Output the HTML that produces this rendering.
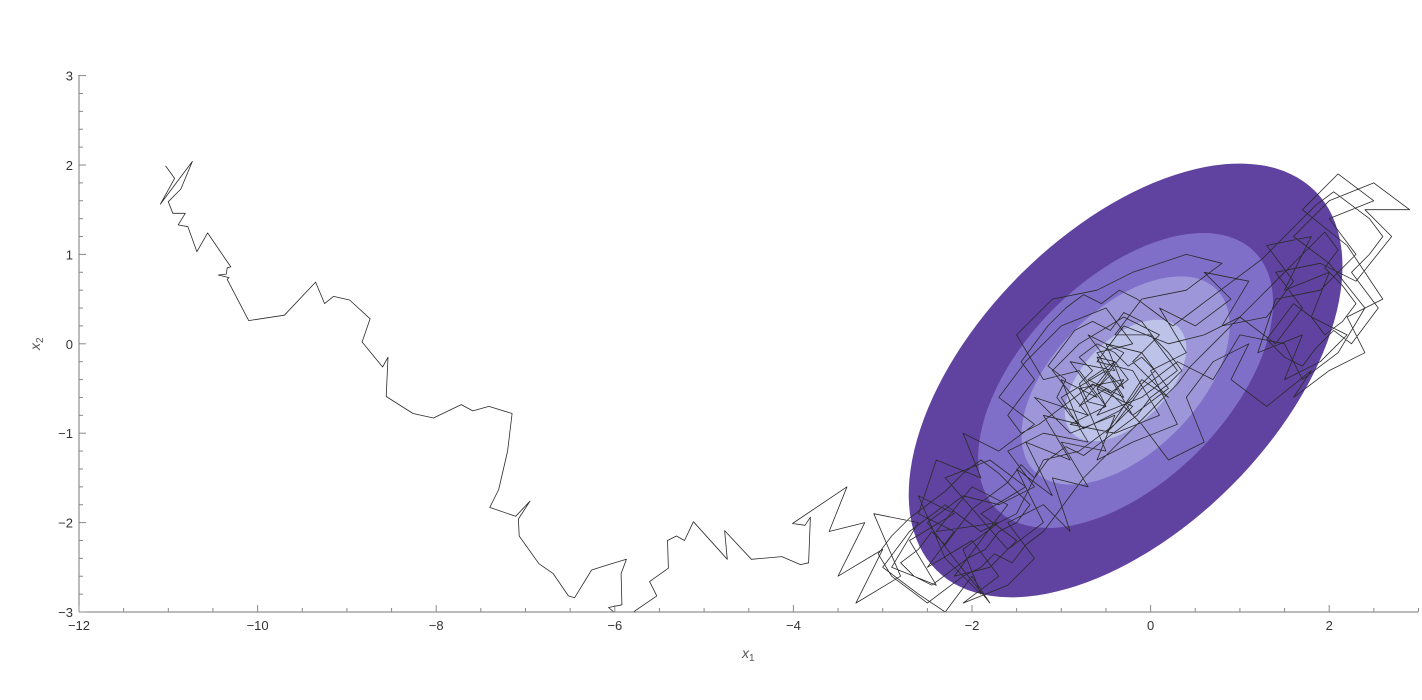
<!DOCTYPE html>
<html><head><meta charset="utf-8"><style>
body{margin:0;background:#fff}
svg{display:block;font-family:"Liberation Sans",sans-serif}
</style></head><body>
<svg id="chart" width="1422" height="700" viewBox="0 0 1422 700" xmlns="http://www.w3.org/2000/svg">
<defs><clipPath id="plotclip"><rect x="79" y="75" width="1340" height="537"/></clipPath></defs>
<g id="contours" clip-path="url(#plotclip)"></g>
<g id="walk" clip-path="url(#plotclip)"></g>
<g id="axes"></g>
<text x="742" y="658" font-size="14" font-style="italic" fill="#555">x<tspan font-size="10" dy="3" font-style="normal">1</tspan></text>
<text transform="translate(40,350) rotate(-90)" font-size="14" font-style="italic" fill="#555">x<tspan font-size="10" dy="3" font-style="normal">2</tspan></text>
</svg>
<script>
const xTicks=[-12,-10,-8,-6,-4,-2,0,2];
const yTicks=[-3,-2,-1,0,1,2,3];
const contourLevels=[1.0,0.68,0.48,0.28];
const contourColors=['#6043a0','#7f6fc9','#9d97da','#bcc2e8'];
const ellipseCenter=[-0.28,-0.41];
const ellipseAxes=[3.0,1.67];
const ellipseAngle=45;
const walkPoints=[
[-11.03,1.99],[-10.93,1.85],[-11.09,1.56],[-10.73,2.04],[-10.86,1.73],[-11.0,1.59],[-10.95,1.46],[-10.81,1.46],[-10.89,1.33],[-10.78,1.31],[-10.68,1.03],[-10.56,1.24],[-10.3,0.86],[-10.34,0.85],[-10.35,0.78],[-10.44,0.77],[-10.32,0.74],[-10.34,0.72],[-10.1,0.26],[-9.7,0.32],[-9.35,0.69],[-9.25,0.45],[-9.15,0.53],[-8.97,0.49],[-8.74,0.28],[-8.83,0.02],[-8.6,-0.26],[-8.54,-0.15],[-8.56,-0.59],[-8.26,-0.78],[-8.03,-0.83],[-7.72,-0.68],[-7.59,-0.75],[-7.41,-0.7],[-7.15,-0.78],[-7.2,-1.2],[-7.3,-1.63],[-7.4,-1.83],[-7.11,-1.93],[-6.95,-1.76],[-7.08,-1.96],[-7.07,-2.15],[-6.85,-2.46],[-6.69,-2.57],[-6.52,-2.82],[-6.45,-2.84],[-6.26,-2.53],[-6.07,-2.47],[-5.87,-2.41],[-5.93,-2.57],[-5.92,-2.92],[-6.07,-2.95],[-6.0,-3.01],[-5.96,-3.1],[-5.85,-3.04],[-5.53,-2.82],[-5.61,-2.66],[-5.4,-2.51],[-5.41,-2.2],[-5.31,-2.15],[-5.22,-2.2],[-5.12,-1.99],[-4.74,-2.41],[-4.77,-2.09],[-4.47,-2.41],[-4.13,-2.38],[-3.92,-2.47],[-3.83,-2.45],[-3.81,-1.94],[-3.87,-2.03],[-4.01,-2.01],
[-3.4,-1.6],[-3.6,-2.1],[-3.2,-2.0],[-3.5,-2.6],[-3.0,-2.3],[-3.3,-2.9],[-2.8,-2.6],[-3.1,-1.9],[-2.6,-2.0],[-2.9,-2.5],[-2.4,-2.7],[-2.7,-2.2],[-2.2,-1.9],[-2.6,-1.7],[-2.3,-2.4],[-1.9,-2.8],[-2.1,-2.3],[-1.7,-2.0],[-2.4,-2.1],[-2.0,-1.6],[-1.6,-1.8],[-2.2,-2.6],[-1.8,-2.5],[-1.5,-2.2],[-1.9,-1.9],[-1.4,-1.6],[-1.8,-1.3],[-2.3,-1.5],[-1.6,-2.3],[-1.2,-2.0],[-1.5,-1.4],[-1.1,-1.7],[-1.4,-1.1],[-0.9,-1.3],[-1.2,-0.8],[-0.8,-0.9],[-1.0,-0.4],[-0.6,-0.6],[-0.9,-0.2],[-0.4,-0.3],[-0.7,0.1],[-0.3,-0.1],[-0.6,-0.5],[-0.2,-0.7],[-0.5,-1.0],[-0.1,-0.4],[0.2,-0.6],[-0.2,-0.2],[0.1,0.1],[-0.3,0.3],[-0.8,0.0],[-1.1,-0.3],[-0.7,-0.8],[-1.3,-0.6],[-0.9,-1.0],[-0.4,-0.8],[-0.6,-1.3],[-0.2,-1.1],[0.3,-0.9],[0.0,-0.3],[0.4,-0.1],[0.1,0.4],[0.5,0.2],[0.9,0.5],[0.6,0.8],[1.1,0.7],[0.8,0.2],[1.3,0.3],[1.6,0.7],[1.3,1.1],[1.8,1.2],[1.5,0.6],[2.0,0.8],[1.8,0.3],[2.2,0.1],[1.9,-0.2],[1.5,-0.4],[1.7,0.1],[1.2,-0.1],[1.4,0.5],[1.9,0.6],[2.3,1.0],[2.0,1.4],[2.5,1.6],[2.1,1.9],[1.7,1.5],[2.2,1.1],[2.6,0.5],[2.2,0.3],[2.4,-0.1],[2.0,-0.3],[1.6,-0.6],[1.8,-0.3],[1.3,-0.7],[0.9,-0.4],[1.1,0.0],[0.7,-0.2],[0.4,-0.6],[0.6,-1.1],[0.2,-1.3],[-0.1,-0.9],[-0.5,-0.5],[-0.8,-0.7],[-0.4,-0.2],[-0.7,-0.4],[-0.3,-0.6],[-0.6,-0.1],[-0.2,0.0],[-0.5,0.4],[-1.0,0.2],[-1.4,-0.2],[-1.7,-0.6],[-1.3,-0.9],[-1.7,-1.2],[-2.1,-1.0],[-1.9,-1.5],[-2.4,-1.3],[-2.6,-1.9],[-2.2,-2.1],[-2.5,-2.5],[-2.0,-2.2],[-1.7,-2.6],[-2.1,-2.9],[-1.6,-2.7],[-1.3,-2.4],[-1.6,-2.0],[-1.2,-1.8],[-0.9,-2.1],[-1.1,-1.5],[-0.7,-1.6],[-1.0,-1.1],[-0.5,-1.2],[-0.8,-0.5],[-0.3,-0.4],[-0.6,-0.8],[-0.1,-0.6],[0.3,-0.3],[0.0,0.1],[-0.4,0.1],[-0.1,0.5],[0.4,0.6],[0.8,0.9],[0.4,1.0],[-0.2,0.8],[-0.6,0.6],[-1.1,0.5],[-1.5,0.1],[-1.2,-0.4],[-0.8,-0.3],[-0.5,-0.7],[-0.9,-0.9],[-0.4,-1.0],[0.1,-0.8],[-0.2,-0.3],[-0.6,-0.2],[-0.3,0.2],[0.2,0.0],[0.6,0.1],[1.0,0.3],[1.4,0.0],[1.7,0.4],[1.4,0.8],[1.9,0.9],[2.3,0.7],[2.7,1.2],[2.4,1.5],[2.9,1.5],[2.5,1.8],[2.0,1.6],[1.6,1.2],[2.0,0.9],[2.4,0.4],[2.1,-0.1],[1.7,-0.4],[1.5,0.0],[1.0,0.1],[0.7,-0.4],[0.3,-0.2],[-0.1,-0.5],[-0.4,-0.9],[-0.8,-1.2],[-1.2,-1.3],[-1.5,-1.9],[-1.9,-2.1],[-2.3,-1.8],[-2.7,-2.1],[-3.0,-2.5],[-2.6,-2.8],[-2.3,-3.0],[-2.0,-2.6],[-1.8,-2.9],[-2.2,-2.4],[-2.5,-2.0],[-2.1,-1.7],[-1.7,-1.8],[-1.3,-1.6],[-1.6,-1.2],[-1.2,-1.0],[-0.7,-1.1],[-1.0,-0.6],[-0.5,-0.3],[-0.2,-0.8],[0.2,-0.5],[-0.1,-0.1],[-0.5,0.0],[-0.3,-0.5],
[-0.45,-0.35],[-0.6,-0.5],[-0.5,-0.7],[-0.7,-0.65],[-0.8,-0.45],[-0.65,-0.3],[-0.8,-0.15],[-0.6,0.0],[-0.4,-0.1],[-0.25,-0.25],[-0.1,-0.15],[0.05,-0.3],[-0.1,-0.45],[-0.2,-0.6],[-0.35,-0.75],[-0.55,-0.85],[-0.75,-0.95],[-0.9,-0.8],[-1.05,-0.6],[-0.95,-0.4],[-1.15,-0.25],[-1.0,-0.05],[-0.85,0.15],[-0.65,0.25],[-0.45,0.15],[-0.3,0.35],[-0.1,0.25],[0.05,0.05],[0.2,-0.1],[0.35,-0.3],[0.2,-0.45],[0.0,-0.6],[-0.15,-0.8],[-0.35,-0.95],[-0.55,-1.1],[-0.75,-1.25],[-0.95,-1.15],[-1.15,-1.3],[-1.3,-1.5],[-1.45,-1.35],[-1.6,-1.55],[-1.8,-1.7],[-2.0,-1.85],[-2.15,-2.05],[-2.3,-2.25],[-2.45,-2.1],[-2.6,-2.3],[-2.8,-2.45],[-2.65,-2.6],[-2.45,-2.7],[-2.25,-2.55],[-2.05,-2.4],[-1.85,-2.3],[-1.7,-2.1],[-1.5,-2.0],[-1.35,-1.8],[-1.5,-1.65],[-1.7,-1.45],[-1.9,-1.3],[-2.1,-1.45],[-2.3,-1.65],[-2.5,-1.8],[-2.7,-1.95],[-2.9,-2.15],[-3.05,-2.35],[-2.9,-2.6],[-2.7,-2.75],[-2.5,-2.9],[-2.3,-2.75],[-2.1,-2.6],[-1.9,-2.5],[-1.75,-2.35],[-1.55,-2.45],[-1.4,-2.25],[-1.2,-2.1],[-1.05,-1.9],[-0.9,-1.7],[-0.75,-1.5],[-0.6,-1.35],[-0.45,-1.2],[-0.3,-1.05],[-0.15,-0.9],[0.0,-0.75],[0.15,-0.6],[0.3,-0.45],[0.45,-0.25],[0.6,-0.1],[0.75,0.05],[0.9,0.2],[1.05,0.35],[1.2,0.5],[1.35,0.65],[1.5,0.8],[1.65,0.95],[1.8,1.1],[1.95,1.25],[2.1,1.05],[1.95,0.85],[2.15,0.65],[2.3,0.45],[2.15,0.25],[1.95,0.1],[1.8,0.3],[1.6,0.45],[1.45,0.25],[1.3,0.05],[1.5,-0.15],[1.7,-0.25],[1.85,-0.05],[2.05,0.15],[2.25,0.0],[2.4,0.2],[2.55,0.4],[2.4,0.6],[2.25,0.8],[2.45,1.0],[2.6,1.2],[2.45,1.4],[2.25,1.55],[2.05,1.7],[1.85,1.55],[1.65,1.35],[1.45,1.15],[1.25,0.95],[1.05,0.8],[0.85,0.65],[0.65,0.5],[0.45,0.35],[0.25,0.2],[0.05,0.35],[-0.15,0.5],[-0.35,0.6],[-0.55,0.45],[-0.75,0.55],[-0.95,0.4],[-1.15,0.2],[-1.3,0.0],[-1.45,-0.2],[-1.3,-0.4],[-1.45,-0.6],[-1.6,-0.8],[-1.45,-1.0],[-1.25,-0.9],[-1.05,-0.75],[-0.85,-0.6],[-0.65,-0.45],[-0.45,-0.55],[-0.25,-0.4],[-0.4,-0.2],[-0.6,-0.15],[-0.5,-0.35]
];
const NS='http://www.w3.org/2000/svg';
const X0=79,XS=89.3,XMIN=-12,Y0=612,YS=89.4,YMIN=-3;
function sx(v){return X0+(v-XMIN)*XS;}
function sy(v){return Y0-(v-YMIN)*YS;}
function mk(tag,attrs,parent){const e=document.createElementNS(NS,tag);for(const k in attrs)e.setAttribute(k,attrs[k]);parent.appendChild(e);return e;}
const cg=document.getElementById('contours');
contourLevels.forEach((s,i)=>{
  const e=mk('ellipse',{cx:sx(ellipseCenter[0]),cy:sy(ellipseCenter[1]),rx:ellipseAxes[0]*s*XS,ry:ellipseAxes[1]*s*YS,fill:contourColors[i],transform:`rotate(${-ellipseAngle} ${sx(ellipseCenter[0])} ${sy(ellipseCenter[1])})`},cg);
  
  
});
const wg=document.getElementById('walk');
const p=mk('polyline',{points:walkPoints.map(q=>sx(q[0]).toFixed(1)+','+sy(q[1]).toFixed(1)).join(' '),fill:'none',stroke:'#2a2a2a',"stroke-width":'0.8',"stroke-linejoin":'round'},wg);


const ag=document.getElementById('axes');
const ax=mk('line',{x1:79,y1:Y0,x2:1418,y2:Y0,stroke:'#777','stroke-width':1},ag);


const ay=mk('line',{x1:79,y1:75,x2:79,y2:Y0,stroke:'#777','stroke-width':1},ag);


for(let v=-12;v<=3.001;v+=0.5){const major=Math.abs(v-Math.round(v))<1e-6&&Math.round(v)%2===0;const x=sx(v);mk('line',{x1:x,y1:Y0,x2:x,y2:Y0-(major?7:4),stroke:'#888','stroke-width':1},ag);}
for(let v=-3;v<=3.001;v+=0.2){const major=Math.abs(v-Math.round(v))<1e-6;const y=sy(v);mk('line',{x1:79,y1:y,x2:79+(major?7:4),y2:y,stroke:'#888','stroke-width':1},ag);}
xTicks.forEach(v=>{const t=mk('text',{x:sx(v),y:Y0+18,'text-anchor':'middle','font-size':13,fill:'#333'},ag);t.textContent=(v<0?'\u2212':'')+Math.abs(v);

});
yTicks.forEach(v=>{const t=mk('text',{x:73,y:sy(v)+5,'text-anchor':'end','font-size':13,fill:'#333'},ag);t.textContent=(v<0?'\u2212':'')+Math.abs(v);

});
</script>
</body></html>
